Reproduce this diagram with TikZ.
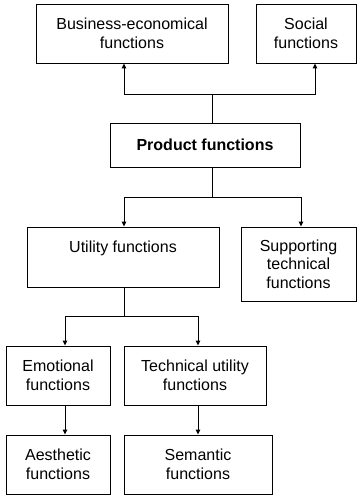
\documentclass[tikz,border=0pt]{standalone}
\usepackage{fontspec}
\setmainfont{Liberation Sans}
\usetikzlibrary{arrows.meta}

\begin{document}
\begin{tikzpicture}[x=1pt, y=-1pt,
    box/.style={draw, line width=0.9pt, align=center, inner sep=2pt,
        font=\fontsize{16}{18.5}\selectfont},
    arr/.style={-{Triangle[length=5pt,width=4.5pt]}, line width=0.9pt}]
    \useasboundingbox (0,0) rectangle (357,495);

    % Top level
    \node[box, minimum width=192pt, minimum height=59pt] (bus) at (132,33.5) {Business-economical\\functions};
    \node[box, minimum width=100pt, minimum height=59pt] (soc) at (306,33.5) {Social\\functions};
    \node[box, minimum width=190pt, minimum height=44pt] (prod) at (205,145) {\bfseries Product functions};

    % Second level
    \node[box, minimum width=192pt, minimum height=60pt] (util) at (123,257) {Utility functions\\[2pt]\mbox{}};
    \node[box, minimum width=115pt, minimum height=74pt] (sup) at (298.5,264) {Supporting\\technical\\functions};

    % Third level
    \node[box, minimum width=104pt, minimum height=59pt] (emo) at (58,375.5) {Emotional\\functions};
    \node[box, minimum width=142pt, minimum height=59pt] (tech) at (195,375.5) {Technical utility\\functions};
    \node[box, minimum width=104pt, minimum height=59pt] (aes) at (58,464.5) {Aesthetic\\functions};
    \node[box, minimum width=148pt, minimum height=59pt] (sem) at (198,464.5) {Semantic\\functions};

    % Junctions
    \coordinate (j1) at (212,94);
    \coordinate (j2) at (212,197);
    \coordinate (j3) at (124,316);

    % Connectors
    \draw[line width=0.9pt] ([xshift=7pt]prod.north) -- (j1);
    \draw[arr] (j1) -| ([xshift=-8pt]bus.south);
    \draw[arr] (j1) -| ([xshift=9pt]soc.south);

    \draw[line width=0.9pt] ([xshift=7pt]prod.south) -- (j2);
    \draw[arr] (j2) -| ([xshift=1pt]util.north);
    \draw[arr] (j2) -| ([xshift=2.5pt]sup.north);

    \draw[line width=0.9pt] ([xshift=1pt]util.south) -- (j3);
    \draw[arr] (j3) -| ([xshift=7pt]emo.north);
    \draw[arr] (j3) -| ([xshift=3pt]tech.north);

    \draw[arr] ([xshift=7pt]emo.south) -- ([xshift=7pt]aes.north);
    \draw[arr] ([xshift=3pt]tech.south) -- (sem.north);
\end{tikzpicture}
\end{document}
